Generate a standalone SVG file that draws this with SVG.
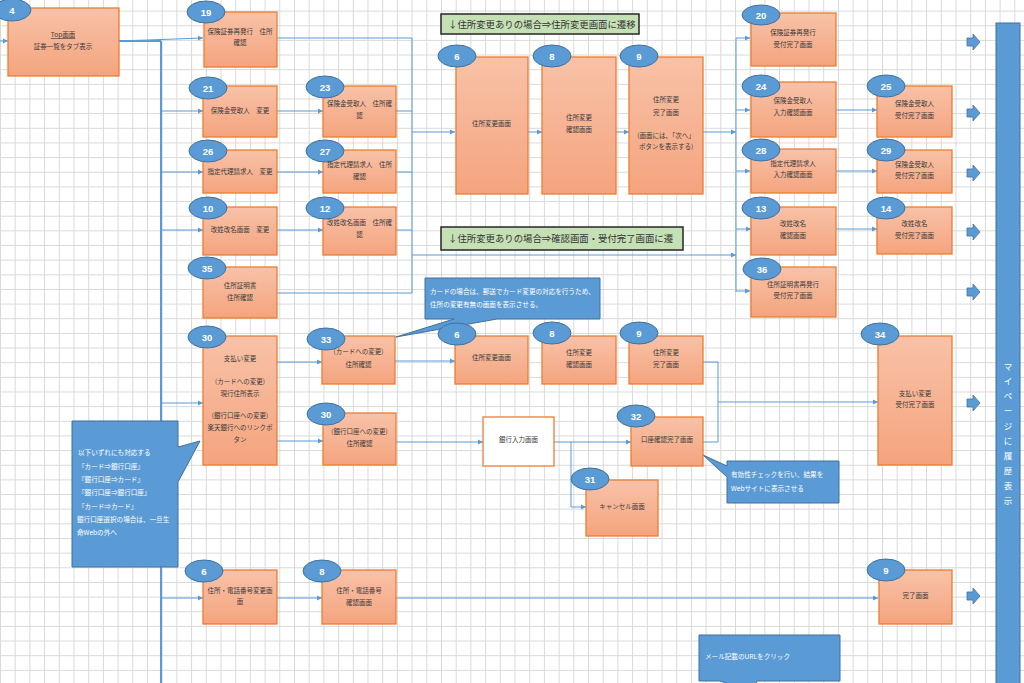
<svg xmlns="http://www.w3.org/2000/svg" width="1024" height="683" viewBox="0 0 1024 683">
<defs>
<pattern id="grid" patternUnits="userSpaceOnUse" x="0" y="10.6" width="14.7" height="14.65">
<path d="M0,0.5 H14.7 M0.5,0 V14.65" stroke="#d9d9d9" stroke-width="1" fill="none"/>
</pattern>
<linearGradient id="g" x1="0" y1="0" x2="0" y2="1">
<stop offset="0" stop-color="#f8c2a8"/>
<stop offset="1" stop-color="#f4a47e"/>
</linearGradient>
<marker id="a" markerWidth="6" markerHeight="6" refX="5" refY="3" orient="auto" markerUnits="userSpaceOnUse">
<path d="M0,0.6 L5,3 L0,5.4 Z" fill="#5b9bd5"/>
</marker>
<style>
.n rect{fill:url(#g);stroke:#ed7d31;stroke-width:1.3}
.n rect.w{fill:#fff}
.n ellipse{fill:#5b9bd5;stroke:#41719c;stroke-width:1}
.num{font-family:"Liberation Sans",sans-serif;font-weight:bold;font-size:9.5px;fill:#fff;text-anchor:middle}
.t{font-family:"Noto Sans CJK JP",sans-serif;font-size:6.5px;fill:#3a3a3a;text-anchor:middle}
.c path{stroke:#5b9bd5;stroke-width:1;fill:none}
.c path.k{stroke-width:2}
.c path.m{marker-end:url(#a)}
.co{fill:#5b9bd5;stroke:#41719c;stroke-width:1}
.ct{font-family:"Noto Sans CJK JP",sans-serif;font-size:6.6px;fill:#fff}
.gb rect{fill:#c5e0b4;stroke:#262626;stroke-width:1.5}
.gt{font-family:"Noto Sans CJK JP",sans-serif;font-size:9.4px;fill:#333}
.ba{fill:#5b9bd5;stroke:#41719c;stroke-width:0.8}
.vt{font-family:"Noto Sans CJK JP",sans-serif;font-size:8.5px;fill:#fff;text-anchor:middle}
</style>
</defs>
<rect x="0" y="0" width="1024" height="683" fill="#fff"/>
<rect x="0" y="0" width="1024" height="683" fill="url(#grid)"/>

<g id="connectors" class="c">
<path class="k" d="M119,41 H161"/>
<path class="k" d="M161,41 V683"/>
<path class="m" d="M0,41 H8"/>
<path class="m" d="M119,41 L203,38"/>
<path class="m" d="M161,111 H203"/>
<path class="m" d="M161,172 H203"/>
<path class="m" d="M161,230 H203"/>
<path class="m" d="M161,403 H203"/>
<path class="m" d="M161,598 H203"/>
<path class="m" d="M277,111 H323"/>
<path class="m" d="M277,172 H323"/>
<path class="m" d="M277,230 H323"/>
<path class="m" d="M277,362 H322"/>
<path class="m" d="M277,441 H323"/>
<path d="M277,38 H412 V293 H277"/>
<path d="M396,111 H412 M396,172 H412 M396,230 H412"/>
<path class="m" d="M412,132 H455"/>
<path class="m" d="M412,255 H736"/>
<path class="m" d="M528,132 H542"/>
<path class="m" d="M616,132 H629"/>
<path class="m" d="M703,132 H736"/>
<path d="M736,38 V292"/>
<path class="m" d="M736,38 H750"/>
<path class="m" d="M736,110 H750"/>
<path class="m" d="M736,171 H750"/>
<path class="m" d="M736,229 H751"/>
<path class="m" d="M736,291 H750"/>
<path class="m" d="M835,110 H877"/>
<path class="m" d="M835,171 H877"/>
<path class="m" d="M835,229 H877"/>
<path class="m" d="M395,361 H455"/>
<path d="M703,362 H718 V442 H703"/>
<path class="m" d="M718,402 H878"/>
<path class="m" d="M396,442 H483"/>
<path class="m" d="M554,442 H631"/>
<path class="m" d="M571,442 V507 H586"/>
<path class="m" d="M277,598 H322"/>
<path class="m" d="M396,598 H878"/>
</g>

<g id="callout1">
<path class="co" d="M425,278 H600 V319 H497 L396,337 L454,319 H425 Z"/>
<text class="ct" x="430" y="293.5">カードの場合は、郵送でカード変更の対応を行うため、</text>
<text class="ct" x="430" y="306.5">住所の変更有無の画面を表示させる。</text>
</g>
<g id="callout2">
<path class="co" d="M72,421 H178 V447 L200,441 L178,482 V567 H72 Z"/>
<text class="ct" font-size="6.8" x="78" y="455.4">以下いずれにも対応する</text>
<text class="ct" font-size="6.8" x="78" y="469.4">『カード⇒銀行口座』</text>
<text class="ct" font-size="6.8" x="78" y="482.4">『銀行口座⇒カード』</text>
<text class="ct" font-size="6.8" x="78" y="495.4">『銀行口座⇒銀行口座』</text>
<text class="ct" font-size="6.8" x="78" y="509.4">『カード⇒カード』</text>
<text class="ct" font-size="6.8" x="77" y="522.4">銀行口座選択の場合は、一旦生</text>
<text class="ct" font-size="6.8" x="77" y="535.4">命Webの外へ</text>
</g>
<g id="callout3">
<path class="co" d="M727,461 H839 V503 H727 V477 L703,455 L727,466 Z"/>
<text class="ct" x="731" y="477.4">有効性チェックを行い、結果を</text>
<text class="ct" x="731" y="491.4">Webサイトに表示させる</text>
</g>
<g id="callout4">
<path class="co" d="M699,635 H840 V681 H757 L752,692 L720,681 H699 Z"/>
<text class="ct" x="705" y="659.4">メール記載のURLをクリック</text>
</g>

<g id="label1" class="gb">
<rect x="441" y="14" width="198" height="20"/>
<text class="gt" x="448" y="27.5">↓住所変更ありの場合⇒住所変更画面に遷移</text>
</g>
<g id="label2" class="gb">
<rect x="441" y="227" width="242" height="23"/>
<text class="gt" x="448" y="242">↓住所変更ありの場合⇒確認画面・受付完了画面に遷</text>
</g>

<g id="n4" class="n">
<rect x="8" y="8" width="111" height="68"/>
<ellipse cx="12" cy="10" rx="19" ry="11"/>
<text class="num" x="12" y="13.5">4</text>
<text class="t" x="63" y="37.3" text-decoration="underline">Top画面</text>
<text class="t" x="63" y="49.3">証券一覧をタブ表示</text>
</g>
<g id="n19" class="n">
<rect x="204" y="12" width="73" height="55"/>
<ellipse cx="206" cy="12" rx="19" ry="11"/>
<text class="num" x="206" y="15.5">19</text>
<text class="t" x="240" y="34.3">保険証券再発行　住所</text>
<text class="t" x="240" y="45.3">確認</text>
</g>
<g id="n21" class="n">
<rect x="203" y="86" width="74" height="51"/>
<ellipse cx="208" cy="88" rx="19" ry="11"/>
<text class="num" x="208" y="91.5">21</text>
<text class="t" x="240" y="113.3">保険金受取人　変更</text>
</g>
<g id="n26" class="n">
<rect x="203" y="150" width="74" height="43"/>
<ellipse cx="208" cy="151" rx="19" ry="11"/>
<text class="num" x="208" y="154.5">26</text>
<text class="t" x="240" y="174.3">指定代理請求人　変更</text>
</g>
<g id="n10" class="n">
<rect x="203" y="207" width="74" height="48"/>
<ellipse cx="208" cy="208" rx="19" ry="11"/>
<text class="num" x="208" y="211.5">10</text>
<text class="t" x="240" y="232.3">改姓改名画面　変更</text>
</g>
<g id="n35" class="n">
<rect x="203" y="267" width="74" height="51"/>
<ellipse cx="207" cy="268" rx="19" ry="11"/>
<text class="num" x="207" y="271.5">35</text>
<text class="t" x="240" y="288.3">住所証明書</text>
<text class="t" x="240" y="300.3">住所確認</text>
</g>
<g id="n30" class="n">
<rect x="203" y="336" width="74" height="129"/>
<ellipse cx="207" cy="337" rx="19" ry="11"/>
<text class="num" x="207" y="340.5">30</text>
<text class="t" x="240" y="361.3">支払い変更</text>
<text class="t" x="240" y="384.3">(カードへの変更)</text>
<text class="t" x="240" y="396.3">現行住所表示</text>
<text class="t" x="240" y="418.3">(銀行口座への変更)</text>
<text class="t" x="240" y="430.3">楽天銀行へのリンクボ</text>
<text class="t" x="240" y="442.3">タン</text>
</g>
<g id="n6c" class="n">
<rect x="203" y="570" width="74" height="54"/>
<ellipse cx="204" cy="571" rx="19" ry="11"/>
<text class="num" x="204" y="574.5">6</text>
<text class="t" x="240" y="593.3">住所・電話番号変更画</text>
<text class="t" x="240" y="604.3">面</text>
</g>
<g id="n23" class="n">
<rect x="323" y="86" width="73" height="51"/>
<ellipse cx="325" cy="87" rx="19" ry="11"/>
<text class="num" x="325" y="90.5">23</text>
<text class="t" x="359.5" y="106.3">保険金受取人　住所確</text>
<text class="t" x="359.5" y="118.3">認</text>
</g>
<g id="n27" class="n">
<rect x="323" y="150" width="73" height="43"/>
<ellipse cx="325" cy="151" rx="19" ry="11"/>
<text class="num" x="325" y="154.5">27</text>
<text class="t" x="359.5" y="167.3">指定代理請求人　住所</text>
<text class="t" x="359.5" y="179.3">確認</text>
</g>
<g id="n12" class="n">
<rect x="323" y="207" width="73" height="48"/>
<ellipse cx="325" cy="208" rx="19" ry="11"/>
<text class="num" x="325" y="211.5">12</text>
<text class="t" x="359.5" y="225.3">改姓改名画面　住所確</text>
<text class="t" x="359.5" y="237.3">認</text>
</g>
<g id="n33" class="n">
<rect x="322" y="336" width="73" height="48"/>
<ellipse cx="326" cy="339" rx="19" ry="11"/>
<text class="num" x="326" y="342.5">33</text>
<text class="t" x="358.5" y="354.3">(カードへの変更)</text>
<text class="t" x="358.5" y="367.3">住所確認</text>
</g>
<g id="n30b" class="n">
<rect x="323" y="413" width="73" height="52"/>
<ellipse cx="326" cy="414" rx="19" ry="11"/>
<text class="num" x="326" y="417.5">30</text>
<text class="t" x="359.5" y="434.3">(銀行口座への変更)</text>
<text class="t" x="359.5" y="446.3">住所確認</text>
</g>
<g id="n8c" class="n">
<rect x="322" y="570" width="74" height="54"/>
<ellipse cx="322" cy="571" rx="19" ry="11"/>
<text class="num" x="322" y="574.5">8</text>
<text class="t" x="359" y="593.3">住所・電話番号</text>
<text class="t" x="359" y="605.3">確認画面</text>
</g>
<g id="n6a" class="n">
<rect x="456" y="57" width="72" height="137"/>
<ellipse cx="457" cy="56" rx="19" ry="11"/>
<text class="num" x="457" y="59.5">6</text>
<text class="t" x="491.5" y="126.3">住所変更画面</text>
</g>
<g id="n8a" class="n">
<rect x="542" y="57" width="74" height="137"/>
<ellipse cx="552" cy="56" rx="19" ry="11"/>
<text class="num" x="552" y="59.5">8</text>
<text class="t" x="579" y="120.3">住所変更</text>
<text class="t" x="579" y="132.3">確認画面</text>
</g>
<g id="n9a" class="n">
<rect x="629" y="57" width="74" height="137"/>
<ellipse cx="639" cy="56" rx="19" ry="11"/>
<text class="num" x="639" y="59.5">9</text>
<text class="t" x="666" y="102.3">住所変更</text>
<text class="t" x="666" y="115.3">完了画面</text>
<text class="t" x="666" y="138.3">(画面には、「次へ」</text>
<text class="t" x="666" y="149.3">ボタンを表示する)</text>
</g>
<g id="n6b" class="n">
<rect x="455" y="336" width="73" height="48"/>
<ellipse cx="457" cy="334" rx="19" ry="11"/>
<text class="num" x="457" y="337.5">6</text>
<text class="t" x="491.5" y="360.3">住所変更画面</text>
</g>
<g id="n8b" class="n">
<rect x="542" y="336" width="74" height="48"/>
<ellipse cx="552" cy="333" rx="19" ry="11"/>
<text class="num" x="552" y="336.5">8</text>
<text class="t" x="579" y="355.3">住所変更</text>
<text class="t" x="579" y="367.3">確認画面</text>
</g>
<g id="n9b" class="n">
<rect x="629" y="336" width="74" height="48"/>
<ellipse cx="639" cy="333" rx="19" ry="11"/>
<text class="num" x="639" y="336.5">9</text>
<text class="t" x="666" y="355.3">住所変更</text>
<text class="t" x="666" y="367.3">完了画面</text>
</g>
<g id="nbank" class="n">
<rect class="w" x="483" y="417" width="71" height="49"/>
<text class="t" x="518.5" y="442.3">銀行入力画面</text>
</g>
<g id="n32" class="n">
<rect x="631" y="417" width="72" height="49"/>
<ellipse cx="636" cy="416" rx="19" ry="11"/>
<text class="num" x="636" y="419.5">32</text>
<text class="t" x="667" y="442.3">口座確認完了画面</text>
</g>
<g id="n31" class="n">
<rect x="586" y="480" width="72" height="56"/>
<ellipse cx="590" cy="479" rx="19" ry="11"/>
<text class="num" x="590" y="482.5">31</text>
<text class="t" x="622" y="509.3">キャンセル画面</text>
</g>
<g id="n20" class="n">
<rect x="751" y="13" width="85" height="53"/>
<ellipse cx="761" cy="15" rx="19" ry="10"/>
<text class="num" x="761" y="18.5">20</text>
<text class="t" x="793" y="35.3">保険証券再発行</text>
<text class="t" x="793" y="47.3">受付完了画面</text>
</g>
<g id="n24" class="n">
<rect x="751" y="82" width="85" height="55"/>
<ellipse cx="761" cy="86" rx="19" ry="11"/>
<text class="num" x="761" y="89.5">24</text>
<text class="t" x="793" y="103.3">保険金受取人</text>
<text class="t" x="793" y="115.3">入力確認画面</text>
</g>
<g id="n25" class="n">
<rect x="877" y="86" width="75" height="51"/>
<ellipse cx="886" cy="86" rx="19" ry="11"/>
<text class="num" x="886" y="89.5">25</text>
<text class="t" x="914.5" y="106.3">保険金受取人</text>
<text class="t" x="914.5" y="118.3">受付完了画面</text>
</g>
<g id="n28" class="n">
<rect x="751" y="149" width="85" height="44"/>
<ellipse cx="761" cy="150" rx="19" ry="11"/>
<text class="num" x="761" y="153.5">28</text>
<text class="t" x="793" y="166.3">指定代理請求人</text>
<text class="t" x="793" y="177.3">入力確認画面</text>
</g>
<g id="n29" class="n">
<rect x="877" y="150" width="75" height="43"/>
<ellipse cx="886" cy="150" rx="19" ry="11"/>
<text class="num" x="886" y="153.5">29</text>
<text class="t" x="914.5" y="167.3">保険金受取人</text>
<text class="t" x="914.5" y="178.3">受付完了画面</text>
</g>
<g id="n13" class="n">
<rect x="751" y="207" width="85" height="48"/>
<ellipse cx="761" cy="208" rx="19" ry="11"/>
<text class="num" x="761" y="211.5">13</text>
<text class="t" x="793" y="226.3">改姓改名</text>
<text class="t" x="793" y="238.3">確認画面</text>
</g>
<g id="n14" class="n">
<rect x="877" y="207" width="75" height="47"/>
<ellipse cx="886" cy="208" rx="19" ry="11"/>
<text class="num" x="886" y="211.5">14</text>
<text class="t" x="914.5" y="226.3">改姓改名</text>
<text class="t" x="914.5" y="238.3">受付完了画面</text>
</g>
<g id="n36" class="n">
<rect x="751" y="267" width="85" height="50"/>
<ellipse cx="762" cy="269" rx="19" ry="11"/>
<text class="num" x="762" y="272.5">36</text>
<text class="t" x="793" y="287.3">住所証明書再発行</text>
<text class="t" x="793" y="298.3">受付完了画面</text>
</g>
<g id="n34" class="n">
<rect x="878" y="336" width="74" height="129"/>
<ellipse cx="880" cy="334" rx="19" ry="11"/>
<text class="num" x="880" y="337.5">34</text>
<text class="t" x="915" y="396.3">支払い変更</text>
<text class="t" x="915" y="407.3">受付完了画面</text>
</g>
<g id="n9c" class="n">
<rect x="879" y="570" width="73" height="54"/>
<ellipse cx="886" cy="570" rx="19" ry="11"/>
<text class="num" x="886" y="573.5">9</text>
<text class="t" x="915.5" y="598.3">完了画面</text>
</g>

<g id="blockarrows">
<path class="ba" d="M967,38 H973 V34 L980,42 L973,50 V46 H967 Z"/>
<path class="ba" d="M967,109 H973 V105 L980,113 L973,121 V117 H967 Z"/>
<path class="ba" d="M967,169 H973 V165 L980,173 L973,181 V177 H967 Z"/>
<path class="ba" d="M967,228 H973 V224 L980,232 L973,240 V236 H967 Z"/>
<path class="ba" d="M967,288 H973 V284 L980,292 L973,300 V296 H967 Z"/>
<path class="ba" d="M967,399 H973 V395 L980,403 L973,411 V407 H967 Z"/>
<path class="ba" d="M967,592 H973 V588 L980,596 L973,604 V600 H967 Z"/>
</g>

<g id="mypage">
<rect x="996" y="23" width="24" height="670" fill="#5b9bd5" stroke="#41719c" stroke-width="1"/>
<text class="vt" x="1008 1008 1008 1008 1008 1008 1008 1008 1008 1008" y="369.5 384.4 399.3 414.2 429.1 444 458.9 473.8 488.7 503.6">マイページに履歴表示</text>
</g>
</svg>
